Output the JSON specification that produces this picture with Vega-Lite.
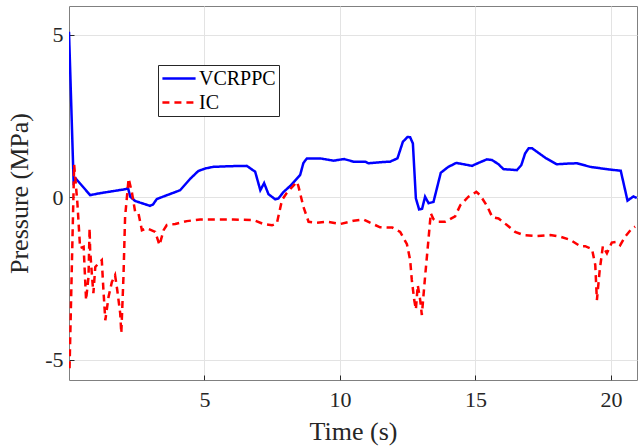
{
  "$schema": "https://vega.github.io/schema/vega-lite/v6.json",
  "width": 568,
  "height": 374,
  "autosize": {"type": "none"},
  "padding": {"left": 69, "top": 6, "right": 4, "bottom": 68},
  "background": "white",
  "config": {
    "font": "Liberation Serif",
    "view": {"stroke": "#808080", "strokeWidth": 1},
    "axis": {
      "domain": false,
      "gridColor": "#e3e3e3",
      "gridWidth": 1,
      "labelFont": "Liberation Serif",
      "titleFont": "Liberation Serif",
      "labelFontSize": 22,
      "titleFontSize": 26,
      "labelColor": "#262626",
      "titleColor": "#262626",
      "titleFontWeight": "normal",
      "tickColor": "#262626",
      "tickSize": -5
    },
    "legend": {
      "strokeColor": "#262626",
      "fillColor": "white",
      "padding": 3,
      "symbolType": "stroke",
      "symbolSize": 1100,
      "symbolStrokeWidth": 2.5,
      "clipHeight": 21,
      "labelFont": "Liberation Serif",
      "labelFontSize": 20,
      "labelColor": "#000000",
      "labelOffset": 2,
      "rowPadding": 3
    }
  },
  "data": {
    "values": [
      {"t": 0, "p": 5.1, "s": "VCRPPC"},
      {"t": 0.17, "p": 0.48, "s": "VCRPPC"},
      {"t": 0.25, "p": 0.58, "s": "VCRPPC"},
      {"t": 0.78, "p": 0.07, "s": "VCRPPC"},
      {"t": 1.15, "p": 0.13, "s": "VCRPPC"},
      {"t": 2.07, "p": 0.25, "s": "VCRPPC"},
      {"t": 2.18, "p": 0.28, "s": "VCRPPC"},
      {"t": 2.26, "p": 0.02, "s": "VCRPPC"},
      {"t": 2.44, "p": -0.11, "s": "VCRPPC"},
      {"t": 2.99, "p": -0.26, "s": "VCRPPC"},
      {"t": 3.1, "p": -0.22, "s": "VCRPPC"},
      {"t": 3.24, "p": -0.05, "s": "VCRPPC"},
      {"t": 4.1, "p": 0.22, "s": "VCRPPC"},
      {"t": 4.48, "p": 0.58, "s": "VCRPPC"},
      {"t": 4.77, "p": 0.81, "s": "VCRPPC"},
      {"t": 5.03, "p": 0.89, "s": "VCRPPC"},
      {"t": 5.33, "p": 0.94, "s": "VCRPPC"},
      {"t": 5.95, "p": 0.96, "s": "VCRPPC"},
      {"t": 6.56, "p": 0.97, "s": "VCRPPC"},
      {"t": 6.87, "p": 0.79, "s": "VCRPPC"},
      {"t": 7.06, "p": 0.22, "s": "VCRPPC"},
      {"t": 7.2, "p": 0.44, "s": "VCRPPC"},
      {"t": 7.36, "p": 0.1, "s": "VCRPPC"},
      {"t": 7.61, "p": -0.06, "s": "VCRPPC"},
      {"t": 7.73, "p": -0.03, "s": "VCRPPC"},
      {"t": 7.92, "p": 0.17, "s": "VCRPPC"},
      {"t": 8.16, "p": 0.35, "s": "VCRPPC"},
      {"t": 8.53, "p": 0.69, "s": "VCRPPC"},
      {"t": 8.65, "p": 1.06, "s": "VCRPPC"},
      {"t": 8.78, "p": 1.2, "s": "VCRPPC"},
      {"t": 9.27, "p": 1.2, "s": "VCRPPC"},
      {"t": 9.76, "p": 1.13, "s": "VCRPPC"},
      {"t": 10.15, "p": 1.18, "s": "VCRPPC"},
      {"t": 10.5, "p": 1.1, "s": "VCRPPC"},
      {"t": 10.93, "p": 1.1, "s": "VCRPPC"},
      {"t": 11.05, "p": 1.05, "s": "VCRPPC"},
      {"t": 11.61, "p": 1.09, "s": "VCRPPC"},
      {"t": 11.85, "p": 1.1, "s": "VCRPPC"},
      {"t": 12.12, "p": 1.2, "s": "VCRPPC"},
      {"t": 12.32, "p": 1.71, "s": "VCRPPC"},
      {"t": 12.49, "p": 1.86, "s": "VCRPPC"},
      {"t": 12.59, "p": 1.85, "s": "VCRPPC"},
      {"t": 12.69, "p": 1.66, "s": "VCRPPC"},
      {"t": 12.8, "p": -0.03, "s": "VCRPPC"},
      {"t": 12.92, "p": -0.37, "s": "VCRPPC"},
      {"t": 13.03, "p": -0.35, "s": "VCRPPC"},
      {"t": 13.14, "p": 0.02, "s": "VCRPPC"},
      {"t": 13.27, "p": -0.18, "s": "VCRPPC"},
      {"t": 13.45, "p": -0.14, "s": "VCRPPC"},
      {"t": 13.72, "p": 0.76, "s": "VCRPPC"},
      {"t": 14.0, "p": 0.94, "s": "VCRPPC"},
      {"t": 14.29, "p": 1.06, "s": "VCRPPC"},
      {"t": 14.56, "p": 1.02, "s": "VCRPPC"},
      {"t": 14.87, "p": 0.97, "s": "VCRPPC"},
      {"t": 15.11, "p": 1.06, "s": "VCRPPC"},
      {"t": 15.42, "p": 1.17, "s": "VCRPPC"},
      {"t": 15.61, "p": 1.15, "s": "VCRPPC"},
      {"t": 15.85, "p": 1.02, "s": "VCRPPC"},
      {"t": 16.03, "p": 0.87, "s": "VCRPPC"},
      {"t": 16.53, "p": 0.84, "s": "VCRPPC"},
      {"t": 16.69, "p": 0.99, "s": "VCRPPC"},
      {"t": 16.83, "p": 1.35, "s": "VCRPPC"},
      {"t": 16.96, "p": 1.51, "s": "VCRPPC"},
      {"t": 17.09, "p": 1.51, "s": "VCRPPC"},
      {"t": 17.61, "p": 1.2, "s": "VCRPPC"},
      {"t": 18.0, "p": 1.02, "s": "VCRPPC"},
      {"t": 18.42, "p": 1.04, "s": "VCRPPC"},
      {"t": 18.75, "p": 1.05, "s": "VCRPPC"},
      {"t": 19.23, "p": 0.94, "s": "VCRPPC"},
      {"t": 19.92, "p": 0.86, "s": "VCRPPC"},
      {"t": 20.36, "p": 0.82, "s": "VCRPPC"},
      {"t": 20.61, "p": -0.1, "s": "VCRPPC"},
      {"t": 20.83, "p": 0.03, "s": "VCRPPC"},
      {"t": 20.95, "p": -0.02, "s": "VCRPPC"},
      {"t": 0.02, "p": -5.26, "s": "IC"},
      {"t": 0.19, "p": 1.01, "s": "IC"},
      {"t": 0.31, "p": -0.18, "s": "IC"},
      {"t": 0.41, "p": -1.56, "s": "IC"},
      {"t": 0.54, "p": -1.52, "s": "IC"},
      {"t": 0.63, "p": -3.16, "s": "IC"},
      {"t": 0.72, "p": -2.44, "s": "IC"},
      {"t": 0.76, "p": -0.95, "s": "IC"},
      {"t": 0.78, "p": -1.62, "s": "IC"},
      {"t": 0.85, "p": -2.44, "s": "IC"},
      {"t": 0.9, "p": -2.95, "s": "IC"},
      {"t": 0.97, "p": -2.14, "s": "IC"},
      {"t": 1.09, "p": -2.03, "s": "IC"},
      {"t": 1.21, "p": -1.93, "s": "IC"},
      {"t": 1.27, "p": -2.85, "s": "IC"},
      {"t": 1.34, "p": -3.78, "s": "IC"},
      {"t": 1.46, "p": -3.06, "s": "IC"},
      {"t": 1.58, "p": -2.61, "s": "IC"},
      {"t": 1.7, "p": -2.39, "s": "IC"},
      {"t": 1.78, "p": -2.85, "s": "IC"},
      {"t": 1.89, "p": -3.57, "s": "IC"},
      {"t": 1.93, "p": -4.18, "s": "IC"},
      {"t": 2.01, "p": -2.44, "s": "IC"},
      {"t": 2.07, "p": -0.6, "s": "IC"},
      {"t": 2.2, "p": 0.58, "s": "IC"},
      {"t": 2.32, "p": 0.16, "s": "IC"},
      {"t": 2.44, "p": -0.44, "s": "IC"},
      {"t": 2.56, "p": -0.48, "s": "IC"},
      {"t": 2.69, "p": -1.01, "s": "IC"},
      {"t": 2.87, "p": -0.95, "s": "IC"},
      {"t": 3.18, "p": -1.06, "s": "IC"},
      {"t": 3.34, "p": -1.47, "s": "IC"},
      {"t": 3.49, "p": -1.01, "s": "IC"},
      {"t": 3.61, "p": -0.85, "s": "IC"},
      {"t": 3.92, "p": -0.82, "s": "IC"},
      {"t": 4.35, "p": -0.73, "s": "IC"},
      {"t": 4.84, "p": -0.68, "s": "IC"},
      {"t": 6.06, "p": -0.68, "s": "IC"},
      {"t": 6.81, "p": -0.7, "s": "IC"},
      {"t": 7.18, "p": -0.82, "s": "IC"},
      {"t": 7.49, "p": -0.86, "s": "IC"},
      {"t": 7.67, "p": -0.8, "s": "IC"},
      {"t": 7.86, "p": -0.08, "s": "IC"},
      {"t": 8.04, "p": 0.14, "s": "IC"},
      {"t": 8.41, "p": 0.48, "s": "IC"},
      {"t": 8.47, "p": 0.33, "s": "IC"},
      {"t": 8.65, "p": -0.29, "s": "IC"},
      {"t": 8.84, "p": -0.75, "s": "IC"},
      {"t": 9.15, "p": -0.78, "s": "IC"},
      {"t": 9.52, "p": -0.75, "s": "IC"},
      {"t": 10.01, "p": -0.82, "s": "IC"},
      {"t": 10.5, "p": -0.72, "s": "IC"},
      {"t": 10.87, "p": -0.68, "s": "IC"},
      {"t": 11.11, "p": -0.78, "s": "IC"},
      {"t": 11.48, "p": -0.92, "s": "IC"},
      {"t": 11.93, "p": -0.93, "s": "IC"},
      {"t": 12.22, "p": -1.06, "s": "IC"},
      {"t": 12.47, "p": -1.44, "s": "IC"},
      {"t": 12.59, "p": -1.93, "s": "IC"},
      {"t": 12.65, "p": -2.54, "s": "IC"},
      {"t": 12.74, "p": -3.16, "s": "IC"},
      {"t": 12.8, "p": -3.45, "s": "IC"},
      {"t": 12.87, "p": -2.7, "s": "IC"},
      {"t": 12.96, "p": -3.16, "s": "IC"},
      {"t": 13.02, "p": -3.62, "s": "IC"},
      {"t": 13.14, "p": -2.44, "s": "IC"},
      {"t": 13.27, "p": -1.25, "s": "IC"},
      {"t": 13.35, "p": -0.49, "s": "IC"},
      {"t": 13.45, "p": -0.67, "s": "IC"},
      {"t": 13.58, "p": -0.75, "s": "IC"},
      {"t": 13.88, "p": -0.75, "s": "IC"},
      {"t": 14.25, "p": -0.58, "s": "IC"},
      {"t": 14.44, "p": -0.24, "s": "IC"},
      {"t": 14.74, "p": 0.02, "s": "IC"},
      {"t": 15.03, "p": 0.17, "s": "IC"},
      {"t": 15.17, "p": 0.07, "s": "IC"},
      {"t": 15.43, "p": -0.27, "s": "IC"},
      {"t": 15.62, "p": -0.61, "s": "IC"},
      {"t": 15.85, "p": -0.65, "s": "IC"},
      {"t": 16.16, "p": -0.85, "s": "IC"},
      {"t": 16.46, "p": -1.06, "s": "IC"},
      {"t": 16.77, "p": -1.16, "s": "IC"},
      {"t": 17.27, "p": -1.19, "s": "IC"},
      {"t": 17.76, "p": -1.16, "s": "IC"},
      {"t": 18.13, "p": -1.21, "s": "IC"},
      {"t": 18.5, "p": -1.31, "s": "IC"},
      {"t": 18.86, "p": -1.5, "s": "IC"},
      {"t": 19.05, "p": -1.5, "s": "IC"},
      {"t": 19.3, "p": -1.59, "s": "IC"},
      {"t": 19.42, "p": -2.08, "s": "IC"},
      {"t": 19.48, "p": -3.16, "s": "IC"},
      {"t": 19.58, "p": -2.27, "s": "IC"},
      {"t": 19.7, "p": -1.5, "s": "IC"},
      {"t": 19.85, "p": -1.72, "s": "IC"},
      {"t": 20.03, "p": -1.39, "s": "IC"},
      {"t": 20.21, "p": -1.37, "s": "IC"},
      {"t": 20.34, "p": -1.47, "s": "IC"},
      {"t": 20.52, "p": -1.21, "s": "IC"},
      {"t": 20.75, "p": -0.98, "s": "IC"},
      {"t": 20.89, "p": -0.9, "s": "IC"}
    ]
  },
  "mark": {"type": "line", "strokeWidth": 2.5, "clip": true},
  "encoding": {
    "x": {
      "field": "t",
      "type": "quantitative",
      "scale": {"domain": [0, 20.96], "nice": false, "zero": false},
      "axis": {"values": [5, 10, 15, 20], "title": "Time (s)", "labelPadding": 14, "titlePadding": 8}
    },
    "y": {
      "field": "p",
      "type": "quantitative",
      "scale": {"domain": [-5.62, 5.89], "nice": false, "zero": false},
      "axis": {
        "values": [-5, 0, 5],
        "title": "Pressure (MPa)",
        "labelPadding": 11,
        "titlePadding": 12,
        "labelExpr": "datum.value < 0 ? '-' + abs(datum.value) : '' + datum.value"
      }
    },
    "color": {
      "field": "s",
      "type": "nominal",
      "scale": {"domain": ["VCRPPC", "IC"], "range": ["#0000ff", "#ff0000"]},
      "legend": {"title": null, "orient": "none", "legendX": 89, "legendY": 59}
    },
    "strokeDash": {
      "field": "s",
      "type": "nominal",
      "scale": {"domain": ["VCRPPC", "IC"], "range": [[1, 0], [7, 5]]},
      "legend": {"title": null, "orient": "none", "legendX": 89, "legendY": 59}
    }
  }
}
